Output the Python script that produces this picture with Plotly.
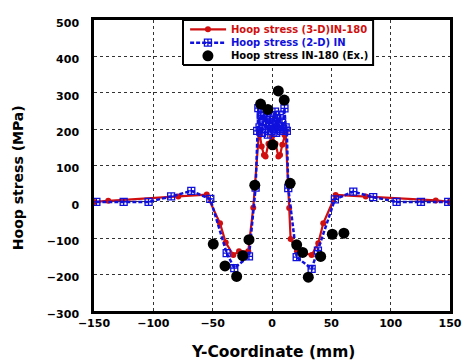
import plotly.graph_objects as go

# 3-D FE result (IN-180)
red_x = [-150, -138, -79, -55, -43.8, -39, -32.6, -27.8, -20, -18.6, -15.8, -11, -10.2, -8.7, -6.8, -5.4,
         -3, 0, 3, 5.4, 6.8, 8.7, 10.5, 11.5, 14.5, 15.7, 21, 27, 33.4, 39, 43.2, 53.6, 79, 138, 150]
red_y = [0, 3, 15, 20, -59, -112, -146, -136, -136, -100, -16, 190, 184, 152, 129, 125,
         160, 180, 160, 125, 129, 157, 184, 190, -17, -102, -136, -140, -146, -114, -59, 19, 15, 4, 0]

# 2-D FE result (IN)
blue_x = [-148, -125, -104, -85, -68, -52, -38.2, -31.8, -19.4, -13.8, -12.5, -11.5, -10.5, -9.5, -8.5,
          -7.5, -6.5, -5.5, -4.5, -3.5, -2.5, -1.5, -0.5, 0.5, 1.5, 2.5, 3.5, 4.5, 5.5, 6.5, 7.5,
          8.5, 9.5, 10.5, 11.5, 12.5, 13.7, 20.8, 33.4, 38.7, 53, 68.5, 85.3, 105, 125.5, 148.5]
blue_y = [0, 0, 0, 15, 30, 8, -141, -182, -150, 39, 195, 258, 205, 238, 190,
          222, 245, 200, 230, 185, 215, 235, 195, 220, 200, 248, 190, 230, 205, 240, 195,
          218, 200, 257, 205, 195, 38, -152, -184, -134, 7, 28, 13, 0, 0, 0]

# Experimental (IN-180)
exp_x = [-49.5, -39.6, -29.8, -24.7, -19.4, -14.5, -9.6, -3.5, 0.5, 5.3, 10.3, 15.3,
         20.8, 25.8, 30.6, 41, 50.8, 60.6]
exp_y = [-116, -176, -205, -148, -104, 46, 269, 254, 157, 305, 280, 51,
         -118, -139, -207, -150, -89, -86]

series_names = ["Hoop stress (3-D)IN-180", "Hoop stress (2-D) IN", "Hoop stress IN-180 (Ex.)"]
x_ticks = [-150, -100, -50, 0, 50, 100, 150]
y_ticks = [-300, -200, -100, 0, 100, 200, 300, 400, 500]
x_title = "Y-Coordinate (mm)"
y_title = "Hoop stress (MPa)"

FONT = "DejaVu Sans"
RED = "#D01010"
BLUE = "#1010DD"
BLACK = "black"

red_marker = dict(symbol="circle", size=6, color=RED)
blue_marker = dict(symbol="square-cross-open", size=7, color=BLUE, line=dict(width=1.3, color=BLUE))
exp_marker = dict(symbol="circle", size=11, color=BLACK)
red_line = dict(color=RED, width=2.2)
blue_line = dict(color=BLUE, width=2.5, dash="4px,2px")

fig = go.Figure()
fig.add_trace(go.Scatter(x=red_x, y=red_y, mode="lines+markers", name=series_names[0],
                         line=red_line, marker=red_marker, showlegend=False))
fig.add_trace(go.Scatter(x=blue_x, y=blue_y, mode="lines+markers", name=series_names[1],
                         line=blue_line, marker=blue_marker, showlegend=False))
fig.add_trace(go.Scatter(x=exp_x, y=exp_y, mode="markers", name=series_names[2],
                         marker=exp_marker, showlegend=False))

# ---- custom compact legend (on an overlay axis in plot-fraction units) ----
LX0, LX1, LY0, LY1 = 0.25, 0.784, 0.845, 1.0
row_y = [0.968, 0.922, 0.877]
gx0, gx1, gxm, tx = 0.270, 0.371, 0.320, 0.379
leg = dict(xaxis="x2", yaxis="y2", showlegend=False, hoverinfo="skip", cliponaxis=False)
fig.add_trace(go.Scatter(x=[LX0, LX1, LX1, LX0, LX0], y=[LY0, LY0, LY1, LY1, LY0], mode="lines",
                         fill="toself", fillcolor="white", line=dict(color="black", width=2), **leg))
fig.add_trace(go.Scatter(x=[gx0, gx1], y=[row_y[0]] * 2, mode="lines", line=red_line, **leg))
fig.add_trace(go.Scatter(x=[gxm], y=[row_y[0]], mode="markers", marker=red_marker, **leg))
fig.add_trace(go.Scatter(x=[gx0, gx1], y=[row_y[1]] * 2, mode="lines", line=blue_line, **leg))
fig.add_trace(go.Scatter(x=[gxm], y=[row_y[1]], mode="markers", marker=blue_marker, **leg))
fig.add_trace(go.Scatter(x=[gxm], y=[row_y[2]], mode="markers", marker=exp_marker, **leg))
for name, yy, col in zip(series_names, row_y, [RED, BLUE, BLACK]):
    fig.add_annotation(x=tx, y=yy, xref="x2", yref="y2", text=name, showarrow=False,
                       xanchor="left", yanchor="middle",
                       font=dict(family=FONT, size=10, weight="bold", color=col))

# axis titles
fig.add_annotation(x=-0.213, y=0.457, xref="paper", yref="paper", text=y_title,
                   textangle=-90, showarrow=False, xanchor="center", yanchor="middle",
                   font=dict(family=FONT, size=14, weight="bold", color="black"))
fig.add_annotation(x=0.504, y=-0.141, xref="paper", yref="paper", text=x_title,
                   showarrow=False, xanchor="center", yanchor="middle",
                   font=dict(family=FONT, size=15.5, weight="bold", color="black"))

fig.update_layout(
    width=465, height=363,
    margin=dict(l=94, r=15, t=20, b=52, autoexpand=False),
    paper_bgcolor="white", plot_bgcolor="white",
    font=dict(family=FONT, color="black"),
    showlegend=False,
    xaxis=dict(
        range=[-150, 150], tickvals=x_ticks, autorange=False, automargin=False,
        showline=True, mirror=True, linecolor="black", linewidth=2.5,
        showgrid=True, gridcolor="#333", griddash="dot", gridwidth=1,
        zeroline=False, ticks="",
        tickfont=dict(family=FONT, size=11, weight="bold"),
    ),
    yaxis=dict(
        range=[-300, 500], tickvals=y_ticks, autorange=False, automargin=False,
        showline=True, mirror=True, linecolor="black", linewidth=2.5,
        showgrid=True, gridcolor="#333", griddash="dot", gridwidth=1,
        zeroline=False, ticks="", ticklabelstandoff=10, ticklabelshift=3,
        tickfont=dict(family=FONT, size=11, weight="bold"),
    ),
    xaxis2=dict(overlaying="x", range=[0, 1], visible=False, fixedrange=True),
    yaxis2=dict(overlaying="y", range=[0, 1], visible=False, fixedrange=True),
)

fig.write_html("out.html")
